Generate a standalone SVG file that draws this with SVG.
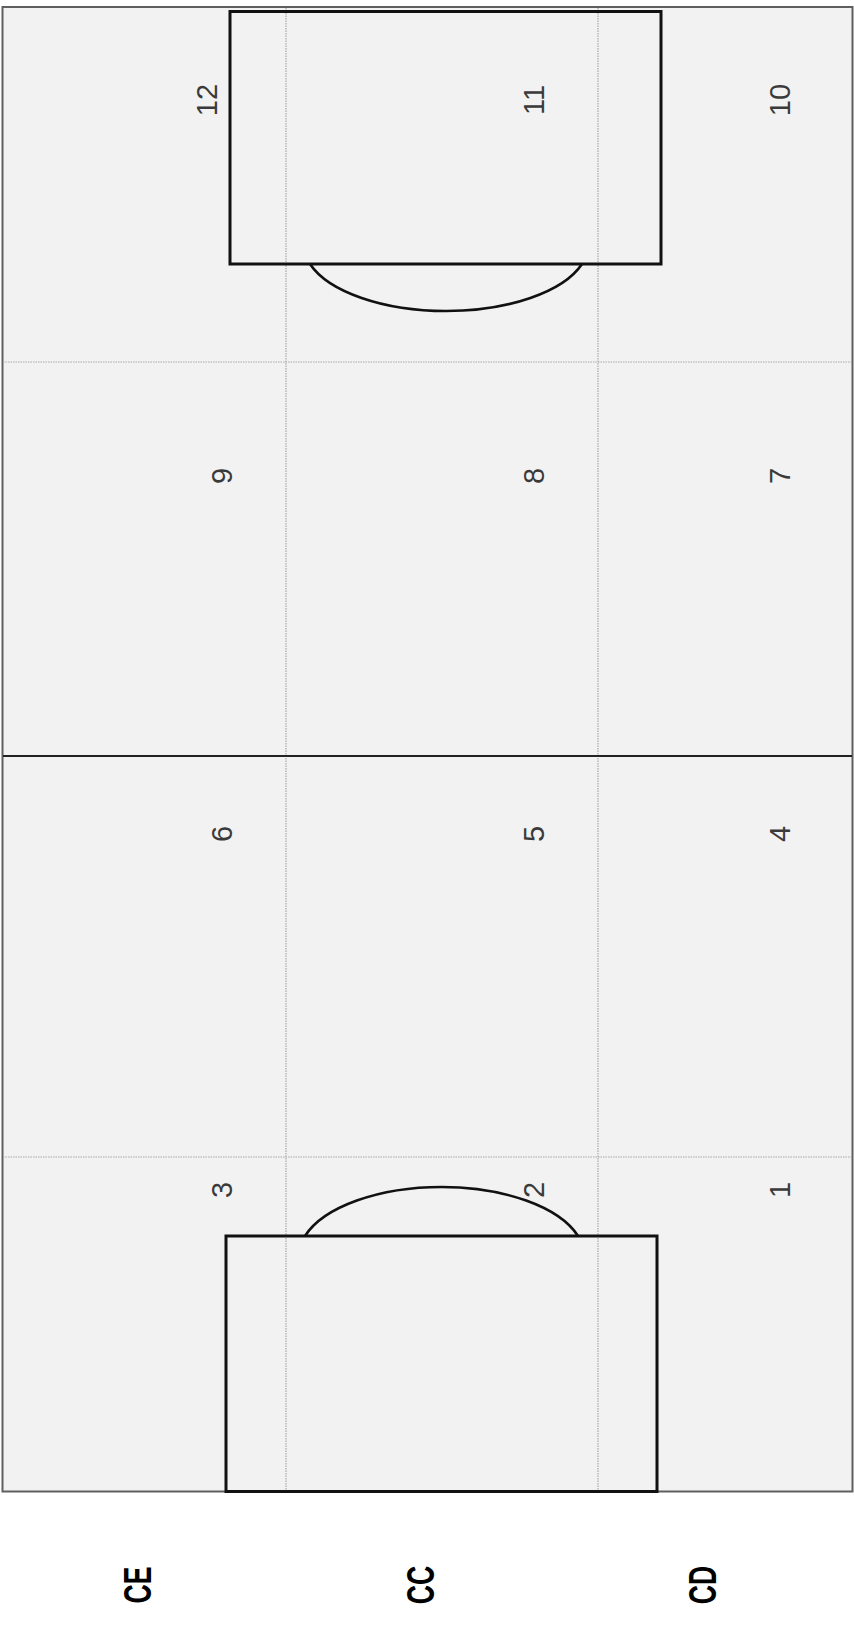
<svg xmlns="http://www.w3.org/2000/svg" width="854" height="1641" viewBox="0 0 854 1641">
  <style>
    .field { fill: #f2f2f2; stroke: #5f5f5f; stroke-width: 2; }
    .grid { stroke: #a8a8a8; stroke-width: 1.2; stroke-dasharray: 1.5 1; fill: none; }
    .mid { stroke: #222; stroke-width: 2.2; }
    .box { fill: none; stroke: #111; stroke-width: 3; }
    .arc { fill: none; stroke: #111; stroke-width: 2.6; }
    .num { font-family: "Liberation Sans", Arial, sans-serif; font-size: 29px; fill: #3a3a3a; text-anchor: middle; }
    .lbl { font-family: "Liberation Sans", Arial, sans-serif; font-size: 39px; font-weight: bold; fill: #000; text-anchor: middle; }
  </style>
  <rect width="854" height="1641" fill="#ffffff"/>
  <g id="field">
    <rect class="field" x="2.5" y="7" width="850" height="1484.5"/>
  </g>
  <g id="gridlines">
    <line class="grid" x1="286" y1="8" x2="286" y2="1491"/>
    <line class="grid" x1="598" y1="8" x2="598" y2="1491"/>
    <line class="grid" x1="3" y1="362" x2="852" y2="362"/>
    <line class="grid" x1="3" y1="1157" x2="852" y2="1157"/>
  </g>
  <g id="midline">
    <line class="mid" x1="3" y1="756" x2="852" y2="756"/>
  </g>
  <g id="top-area">
    <rect class="box" x="230" y="11.5" width="431" height="252.5"/>
    <path class="arc" d="M310,264 A142.5,67 0 0,0 582,264"/>
  </g>
  <g id="bottom-area">
    <rect class="box" x="226" y="1236" width="431" height="255.5"/>
    <path class="arc" d="M305,1236 A143.1,70 0 0,1 578,1236"/>
  </g>
  <g id="zone-labels">
    <text class="num" transform="translate(216.7,100) rotate(-90)">12</text>
    <text class="num" transform="translate(544.4,100) rotate(-90)">11</text>
    <text class="num" transform="translate(790.4,100) rotate(-90)">10</text>
    <text class="num" transform="translate(232.4,476) rotate(-90)">9</text>
    <text class="num" transform="translate(544.4,476) rotate(-90)">8</text>
    <text class="num" transform="translate(790.4,476) rotate(-90)">7</text>
    <text class="num" transform="translate(232.4,834) rotate(-90)">6</text>
    <text class="num" transform="translate(544.4,834) rotate(-90)">5</text>
    <text class="num" transform="translate(790.4,834) rotate(-90)">4</text>
    <text class="num" transform="translate(232.4,1190) rotate(-90)">3</text>
    <text class="num" transform="translate(544.4,1190) rotate(-90)">2</text>
    <text class="num" transform="translate(790.4,1190) rotate(-90)">1</text>
  </g>
  <g id="corridor-labels">
    <text class="lbl" transform="translate(151,1585) rotate(-90) scale(0.68,1)">CE</text>
    <text class="lbl" transform="translate(434,1585) rotate(-90) scale(0.68,1)">CC</text>
    <text class="lbl" transform="translate(716,1585) rotate(-90) scale(0.68,1)">CD</text>
  </g>
</svg>
